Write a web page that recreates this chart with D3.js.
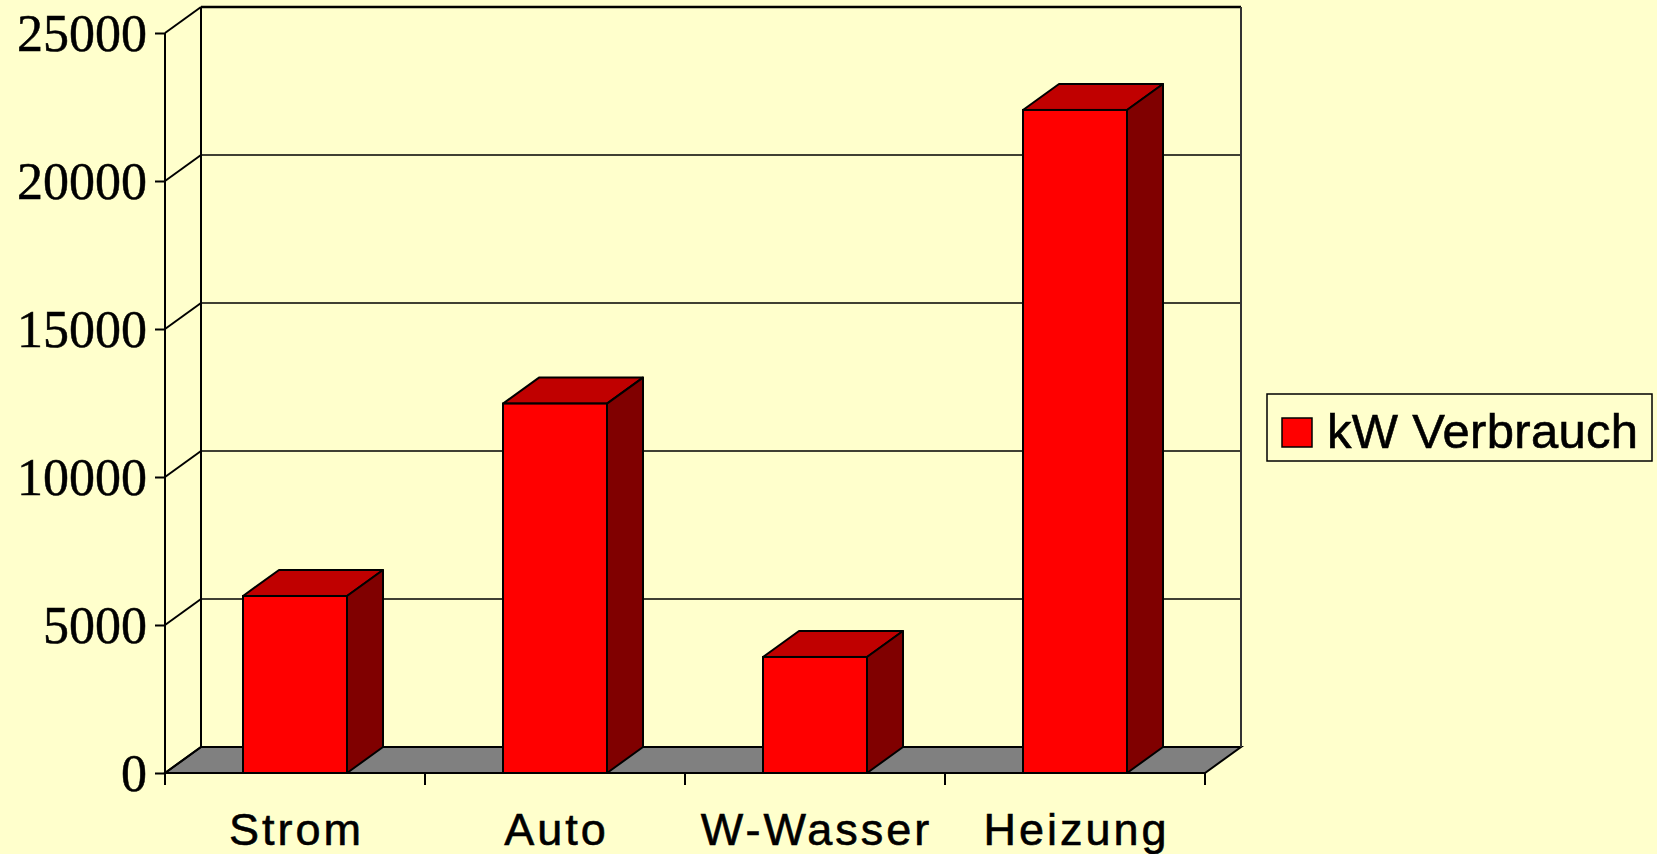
<!DOCTYPE html>
<html>
<head>
<meta charset="utf-8">
<script src="https://cdn.jsdelivr.net/npm/d3@7"></script>
<style>
  html, body { margin: 0; padding: 0; background: #ffffcc; }
  svg { display: block; }
</style>
</head>
<body>
<div id="chart"></div>
<script>
const kategorien = ['Strom', 'Auto', 'W-Wasser', 'Heizung']
const verbrauch = [5980, 12480, 3920, 22400]
const yTicks = [0, 5000, 10000, 15000, 20000, 25000]
const serienName = 'kW Verbrauch'

const width = 1657
const height = 854
const dx = 36
const dy = -26

const svg = d3.select('#chart')
    .append('svg')
    .attr('width', width)
    .attr('height', height)

svg.append('rect')
    .attr('width', width)
    .attr('height', height)
    .attr('fill', '#ffffcc')

const y = d3.scaleLinear()
    .domain([0, 25000])
    .range([773, 33])

const x = d3.scaleBand()
    .domain(kategorien)
    .range([165, 1205])
    .paddingInner(0.6)
    .paddingOuter(0.3)

const x0 = x.range()[0]
const x1 = x.range()[1]

// Boden
svg.append('path')
    .attr('d', `M${x0},${y(0)} L${x1},${y(0)} L${x1 + dx},${y(0) + dy} L${x0 + dx},${y(0) + dy} Z`)
    .attr('fill', '#808080')
    .attr('stroke', '#000')
    .attr('stroke-width', 2)

// Rueckwand: Gitterlinien
svg.selectAll('.grid')
    .data(yTicks.filter(d => d > 0))
    .enter()
    .append('line')
    .attr('class', 'grid')
    .attr('x1', x0 + dx)
    .attr('x2', x1 + dx)
    .attr('y1', d => y(d) + dy)
    .attr('y2', d => y(d) + dy)
    .attr('stroke', '#000')
    .attr('stroke-width', d => d === 25000 ? 2.5 : 1.5)

// Seitenwand: Diagonalen
svg.selectAll('.diag')
    .data(yTicks)
    .enter()
    .append('line')
    .attr('class', 'diag')
    .attr('x1', x0)
    .attr('x2', x0 + dx)
    .attr('y1', d => y(d))
    .attr('y2', d => y(d) + dy)
    .attr('stroke', '#000')
    .attr('stroke-width', 2)

svg.append('line')
    .attr('x1', x0 + dx).attr('x2', x0 + dx)
    .attr('y1', y(25000) + dy).attr('y2', y(0) + dy)
    .attr('stroke', '#000').attr('stroke-width', 2)

svg.append('line')
    .attr('x1', x1 + dx).attr('x2', x1 + dx)
    .attr('y1', y(25000) + dy).attr('y2', y(0) + dy)
    .attr('stroke', '#333').attr('stroke-width', 2)

// y-Achse
const yAxis = d3.axisLeft(y)
    .tickValues(yTicks)
    .tickSize(10)
    .tickPadding(8)
    .tickFormat(d3.format('d'))

svg.append('g')
    .attr('transform', `translate(${x0}, 0)`)
    .call(yAxis)
    .call(g => g.selectAll('path, line').attr('stroke', '#000').attr('stroke-width', 2))
    .call(g => g.select('.domain').attr('d', `M0,${y(0) + 12}V${y(25000)}`))
    .call(g => g.selectAll('text')
        .attr('fill', '#000')
        .attr('stroke', '#000')
        .attr('stroke-width', 0.5)
        .attr('dy', '0.34em')
        .style('font-family', '"Liberation Serif", "Times New Roman", serif')
        .style('font-size', '52px'))

// x-Achse
const xTickPos = d3.range(kategorien.length + 1).map(i => x0 + i * x.step())
svg.selectAll('.xtick')
    .data(xTickPos)
    .enter()
    .append('line')
    .attr('class', 'xtick')
    .attr('x1', d => d).attr('x2', d => d)
    .attr('y1', y(0)).attr('y2', y(0) + 12)
    .attr('stroke', '#000').attr('stroke-width', 2)

svg.append('line')
    .attr('x1', x0).attr('x2', x1)
    .attr('y1', y(0)).attr('y2', y(0))
    .attr('stroke', '#000').attr('stroke-width', 2)

svg.selectAll('.xlabel')
    .data(kategorien)
    .enter()
    .append('text')
    .attr('class', 'xlabel')
    .attr('x', d => x(d) + x.bandwidth() / 2 + 1.5)
    .attr('y', 845)
    .attr('text-anchor', 'middle')
    .attr('stroke', '#000')
    .attr('stroke-width', 0.6)
    .style('font-family', '"Liberation Sans", Arial, sans-serif')
    .style('font-size', '45px')
    .style('letter-spacing', '3px')
    .text(d => d)

// Balken
const bars = svg.selectAll('.bar')
    .data(kategorien.map((k, i) => ({ k, v: verbrauch[i] })))
    .enter()
    .append('g')
    .attr('class', 'bar')

bars.append('path')
    .attr('d', d => {
        const l = x(d.k), r = l + x.bandwidth(), t = y(d.v)
        return `M${l},${t} L${l + dx},${t + dy} L${r + dx},${t + dy} L${r},${t} Z`
    })
    .attr('fill', '#c00000')
    .attr('stroke', '#000').attr('stroke-width', 2).attr('stroke-linejoin', 'round')

bars.append('path')
    .attr('d', d => {
        const r = x(d.k) + x.bandwidth(), t = y(d.v), b = y(0)
        return `M${r},${t} L${r + dx},${t + dy} L${r + dx},${b + dy} L${r},${b} Z`
    })
    .attr('fill', '#800000')
    .attr('stroke', '#000').attr('stroke-width', 2).attr('stroke-linejoin', 'round')

bars.append('rect')
    .attr('x', d => x(d.k))
    .attr('y', d => y(d.v))
    .attr('width', x.bandwidth())
    .attr('height', d => y(0) - y(d.v))
    .attr('fill', '#ff0000')
    .attr('stroke', '#000').attr('stroke-width', 2)

// Legende
const legend = svg.append('g')
    .attr('transform', 'translate(1267, 394)')

legend.append('rect')
    .attr('width', 385)
    .attr('height', 67)
    .attr('fill', '#ffffcc')
    .attr('stroke', '#000')
    .attr('stroke-width', 1.5)

legend.append('rect')
    .attr('x', 15).attr('y', 24)
    .attr('width', 30).attr('height', 29)
    .attr('fill', '#ff0000')
    .attr('stroke', '#000').attr('stroke-width', 1.5)

legend.append('text')
    .attr('x', 60)
    .attr('y', 54)
    .attr('stroke', '#000')
    .attr('stroke-width', 0.6)
    .style('font-family', '"Liberation Sans", Arial, sans-serif')
    .style('font-size', '49px')
    .style('letter-spacing', '0.3px')
    .text(serienName)
</script>
</body>
</html>
